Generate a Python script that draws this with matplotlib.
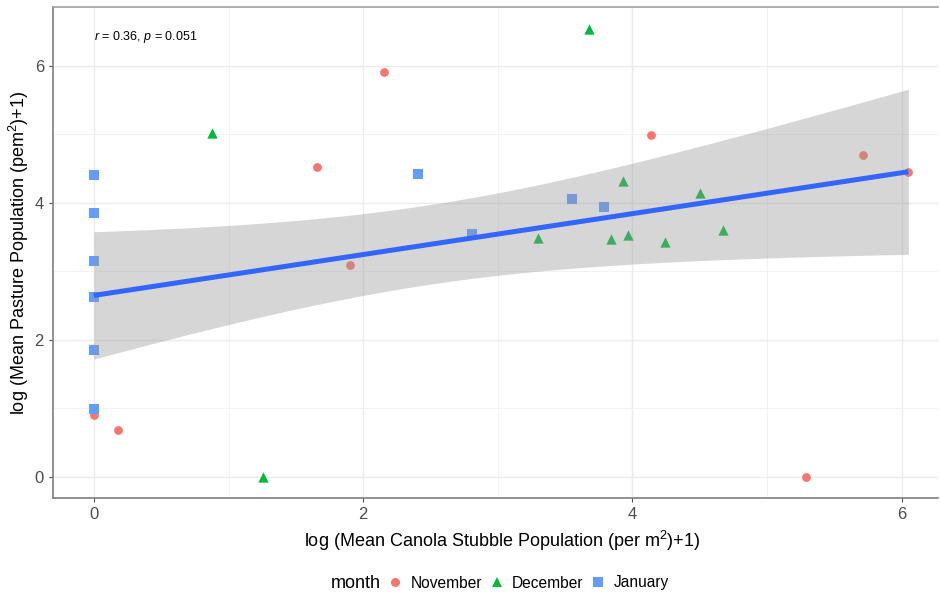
import numpy as np
import matplotlib
matplotlib.use("Agg")
import matplotlib.pyplot as plt
from matplotlib.lines import Line2D

plt.rcParams['font.family'] = ['Liberation Sans', 'DejaVu Sans']
plt.rcParams['mathtext.fontset'] = 'custom'
plt.rcParams['mathtext.rm'] = 'Liberation Sans'
plt.rcParams['mathtext.it'] = 'Liberation Sans:italic'

months = ["November", "December", "January"]
colors = ["#F8766D", "#00BA38", "#619CFF"]
markers = ["o", "^", "s"]
sizes = [40, 55, 45]

nov_x = [0.0, 0.18, 1.655, 1.90, 2.153, 4.14, 5.29, 5.716, 6.05]
nov_y = [0.905, 0.69, 4.53, 3.10, 5.91, 4.99, 0.0, 4.70, 4.45]

dec_x = [0.0, 0.876, 1.255, 3.68, 3.30, 3.84, 3.93, 3.97, 4.24, 4.50, 4.67]
dec_y = [1.87, 5.02, 0.0, 6.54, 3.49, 3.47, 4.32, 3.53, 3.43, 4.15, 3.61]

jan_x = [0.0, 0.0, 0.0, 0.0, 0.0, 0.0, 2.41, 2.81, 3.55, 3.79]
jan_y = [4.41, 3.85, 3.15, 2.63, 1.85, 0.99, 4.42, 3.55, 4.06, 3.94]

annot_text = r"$\it{r}$ = 0.36, $\it{p}$ = 0.051"
xlabel = r"log (Mean Canola Stubble Population (per m$^{2}$)+1)"
ylabel = r"log (Mean Pasture Population (pem$^{2}$)+1)"
ticks = [0, 2, 4, 6]
minor_ticks = [1, 3, 5]
T_CRIT = 2.05  # ~ t(0.975, df ~ 27)

fig = plt.figure(figsize=(9.4, 5.94), dpi=100)
ax = fig.add_axes([53/940, 1-498/594, (938-53)/940, (498-7)/594])

series = [(nov_x, nov_y), (dec_x, dec_y), (jan_x, jan_y)]
for (xs, ys), c, m, s in zip(series, colors, markers, sizes):
    ax.scatter(xs, ys, c=c, marker=m, s=s, linewidths=0, zorder=3)

# linear fit with confidence band
X = np.array(nov_x + dec_x + jan_x)
Y = np.array(nov_y + dec_y + jan_y)
n = len(X)
b1, b0 = np.polyfit(X, Y, 1)
resid = Y - (b0 + b1 * X)
s_err = np.sqrt(np.sum(resid**2) / (n - 2))
xg = np.linspace(X.min(), X.max(), 200)
yg = b0 + b1 * xg
se = s_err * np.sqrt(1/n + (xg - X.mean())**2 / np.sum((X - X.mean())**2))
ax.fill_between(xg, yg - T_CRIT*se, yg + T_CRIT*se, color="#999999", alpha=0.4,
                linewidth=0, zorder=4)
ax.plot(xg, yg, color="#3366FF", lw=3.6, zorder=5, solid_capstyle='butt')

ax.text(0, 6.42, annot_text, fontsize=9, ha='left', va='center', color='black')

ax.set_xlim(-0.304, 6.27)
ax.set_ylim(-0.307, 6.86)
ax.set_xticks(ticks)
ax.set_yticks(ticks)
ax.set_xticks(minor_ticks, minor=True)
ax.set_yticks(minor_ticks, minor=True)
ax.grid(True, which='major', color='#EBEBEB', lw=1.0, zorder=0)
ax.grid(True, which='minor', color='#F2F2F2', lw=0.7, zorder=0)
ax.set_axisbelow(True)
ax.tick_params(which='minor', length=0)
ax.tick_params(which='major', length=3, color='#4D4D4D', labelsize=12, labelcolor='#4D4D4D', width=0.8)
ax.spines['right'].set_visible(False)
ax.spines['top'].set_color('#A0A0A0')
ax.spines['left'].set_color('#7F7F7F')
ax.spines['bottom'].set_color('#7F7F7F')
for sp in ['top', 'left', 'bottom']:
    ax.spines[sp].set_linewidth(1.2)

ax.set_xlabel(xlabel, fontsize=13)
ax.xaxis.set_label_coords((502-53)/(938-53), -(529-498)/(498-7))
ax.set_ylabel(ylabel, fontsize=13)
ax.yaxis.set_label_coords(-(53-31)/(938-53), 0.5)

handles = [Line2D([], [], ls='none', marker=m, color=c, markersize=ms, markeredgewidth=0)
           for c, m, ms in zip(colors, markers, [6.5, 7.5, 6.5])]
fig.text(331/940, 1-583/594, "month", fontsize=13, ha='left', va='center')
fig.legend(handles, months, loc='center left', bbox_to_anchor=(387/940, 1-583/594),
           ncol=3, frameon=False, fontsize=11.2, handlelength=1.0, handletextpad=0.5,
           columnspacing=0.45, borderaxespad=0, borderpad=0)

fig.savefig("out.png", dpi=100)
